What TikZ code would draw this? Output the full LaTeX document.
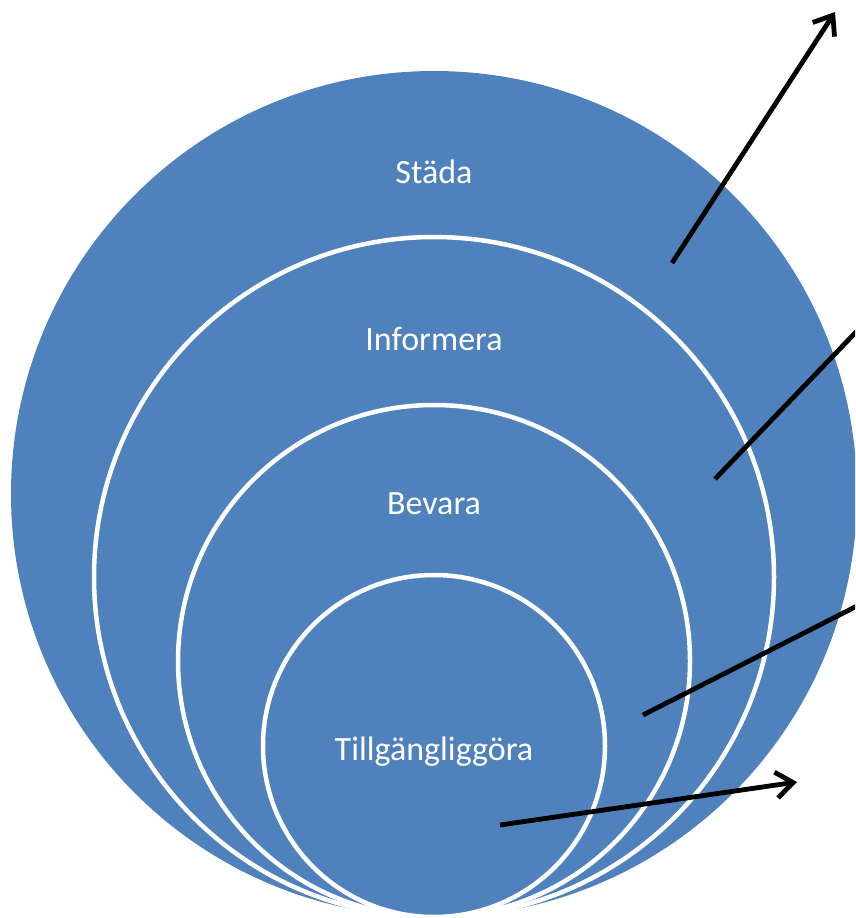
\documentclass[tikz,border=0pt]{standalone}
\usepackage{fontspec}
\setmainfont{Carlito}
\usetikzlibrary{arrows.meta}
\definecolor{ringblue}{RGB}{79,129,189}
\begin{document}
\begin{tikzpicture}[x=1pt,y=-1pt,
  ring/.style={circle,fill=ringblue,inner sep=0pt,outer sep=0pt},
  whitering/.style={ring,draw=white,line width=4.5pt},
  lbl/.style={text=white,font=\fontsize{34}{40}\selectfont,anchor=base,inner sep=0pt},
  pointer/.style={draw=black,line width=4.8pt},
  pointerarrow/.style={pointer,-{Straight Barb[length=17pt,width=26pt,line width=4.8pt]}}]
\useasboundingbox (0,0) rectangle (855,918);
\clip (0,0) rectangle (855,918);
\fill[white] (0,0) rectangle (855,918);
\node[ring,minimum size=846pt] (c1) at (434,494) {};
\node[whitering,minimum size=680pt] (c2) at (434,577) {};
\node[whitering,minimum size=512pt] (c3) at (434,661) {};
\node[whitering,minimum size=342pt] (c4) at (434,746) {};
\node[lbl] (t1) at (434,183) {Städa};
\node[lbl] (t2) at (434,350) {Informera};
\node[lbl] (t3) at (434,514) {Bevara};
\node[lbl] (t4) at (434,760) {Tillgängliggöra};
\coordinate (p1s) at (672,263);
\coordinate (p1e) at (835,12);
\coordinate (p2s) at (715,479);
\coordinate (p2e) at (857,331);
\coordinate (p3s) at (643,715);
\coordinate (p3e) at (857,606);
\coordinate (p4s) at (500,825);
\coordinate (p4e) at (797,782);
\draw[pointerarrow] (p1s) -- (p1e);
\draw[pointer] (p2s) -- (p2e);
\draw[pointer] (p3s) -- (p3e);
\draw[pointerarrow] (p4s) -- (p4e);
\end{tikzpicture}
\end{document}
